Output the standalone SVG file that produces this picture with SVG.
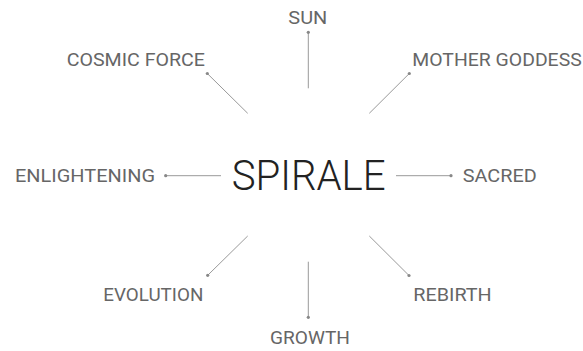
<svg xmlns="http://www.w3.org/2000/svg" width="583" height="351" viewBox="0 0 583 351">
<style>
.lbl{font-family:Roboto,"Liberation Sans",sans-serif;font-size:18.5px;font-weight:400;fill:#666;}
.main{font-family:Roboto,"Liberation Sans",sans-serif;font-size:42px;font-weight:300;fill:#222;}
.ln{stroke:#999;stroke-width:1;fill:none;}
.dot{fill:#888;}
</style>
<rect width="583" height="351" fill="#fff"/>
<g id="connectors">
<line class="ln" x1="308.3" y1="32.3" x2="308.3" y2="88.3"/><circle class="dot" cx="308.3" cy="32.3" r="1.6"/>
<line class="ln" x1="207.3" y1="73.5" x2="247.7" y2="113.3"/><circle class="dot" cx="207.3" cy="73.5" r="1.6"/>
<line class="ln" x1="409.3" y1="73.5" x2="369.3" y2="113.3"/><circle class="dot" cx="409.3" cy="73.5" r="1.6"/>
<line class="ln" x1="165.7" y1="175.7" x2="221" y2="175.7"/><circle class="dot" cx="165.7" cy="175.7" r="1.6"/>
<line class="ln" x1="396" y1="175.7" x2="451" y2="175.7"/><circle class="dot" cx="451" cy="175.7" r="1.6"/>
<line class="ln" x1="247.7" y1="236" x2="207.7" y2="275.3"/><circle class="dot" cx="207.7" cy="275.3" r="1.6"/>
<line class="ln" x1="369.3" y1="236" x2="409" y2="275.5"/><circle class="dot" cx="409" cy="275.5" r="1.6"/>
<line class="ln" x1="308.3" y1="261.7" x2="308.3" y2="317.3"/><circle class="dot" cx="308.3" cy="317.3" r="1.6"/>
</g>
<g id="spirale"><text class="main" x="231.7" y="190" textLength="154" lengthAdjust="spacingAndGlyphs">SPIRALE</text></g>
<g id="sun"><text class="lbl" x="288.3" y="24" textLength="39" lengthAdjust="spacingAndGlyphs">SUN</text></g>
<g id="cosmic-force"><text class="lbl" x="66.7" y="66" textLength="138.3" lengthAdjust="spacingAndGlyphs">COSMIC FORCE</text></g>
<g id="mother-goddess"><text class="lbl" x="412.3" y="66" textLength="169.4" lengthAdjust="spacingAndGlyphs">MOTHER GODDESS</text></g>
<g id="enlightening"><text class="lbl" x="15" y="181.5" textLength="140" lengthAdjust="spacingAndGlyphs">ENLIGHTENING</text></g>
<g id="sacred"><text class="lbl" x="462.7" y="181.5" textLength="74" lengthAdjust="spacingAndGlyphs">SACRED</text></g>
<g id="evolution"><text class="lbl" x="103.3" y="301.3" textLength="100" lengthAdjust="spacingAndGlyphs">EVOLUTION</text></g>
<g id="rebirth"><text class="lbl" x="413.3" y="301.3" textLength="78.4" lengthAdjust="spacingAndGlyphs">REBIRTH</text></g>
<g id="growth"><text class="lbl" x="270" y="343.5" textLength="80" lengthAdjust="spacingAndGlyphs">GROWTH</text></g>
</svg>
